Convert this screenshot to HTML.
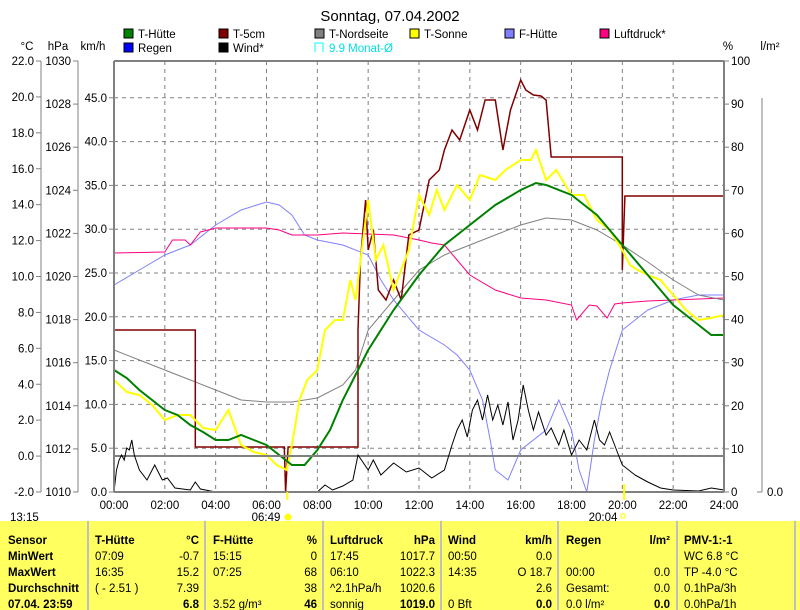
<!DOCTYPE html>
<html><head><meta charset="utf-8"><style>
body{margin:0;background:#fff;width:800px;height:610px;overflow:hidden;font-family:"Liberation Sans",sans-serif}
svg{position:absolute;left:0;top:0}
text{font-family:"Liberation Sans",sans-serif;font-size:11.5px;fill:#000}
</style></head><body>
<svg id="s" width="800" height="610" xmlns="http://www.w3.org/2000/svg">
<text x="390" y="21" text-anchor="middle" style="font-size:15px">Sonntag, 07.04.2002</text>
<g id="g"></g>
</svg>
<script>
var g=document.getElementById('g');var h='';
var X0=114,X1=724,Y0=61,Y1=492;
function x(t){return X0+t*(X1-X0)/24}
function L(a,b,c,d,col,w,da){h+='<line x1="'+a+'" y1="'+b+'" x2="'+c+'" y2="'+d+'" stroke="'+col+'" stroke-width="'+(w||1)+'"'+(da?' stroke-dasharray="'+da+'"':'')+'/>';}
function T(xx,yy,s,anc,ex){h+='<text x="'+xx+'" y="'+yy+'" text-anchor="'+(anc||'start')+'" '+(ex||'')+'>'+s+'</text>';}
for(var i=1;i<12;i++)L(x(2*i),Y0,x(2*i),Y1,'#808080',1,'4,4');
for(var k=1;k<=9;k++){var yy=Y1-k*5*431/49.2;L(X0,yy,X1,yy,'#808080',1,'4,4');}
T(27,50,'°C','middle');T(58,50,'hPa','middle');T(93,50,'km/h','middle');T(728,50,'%','middle');T(770,50,'l/m²','middle');
L(41,61,41,492,'#808080');L(78,61,78,492,'#808080');
for(var v=22;v>=-2;v-=2){var yy=Y0+(22-v)*431/24;L(36,yy,41,yy,'#808080');T(34,yy+4,v.toFixed(1),'end');}
for(var p=1030;p>=1010;p-=2){var yy=Y0+(1030-p)*431/20;L(73,yy,78,yy,'#808080');T(71,yy+4,p,'end');}
for(var k=0;k<=9;k++){var yy=Y1-k*5*431/49.2;L(109,yy,114,yy,'#808080');T(107,yy+4,(k*5).toFixed(1),'end');}
for(var q=0;q<=100;q+=10){var yy=Y1-q*4.31;L(724,yy,729,yy,'#808080');T(731,yy+4,q);}
L(762,98,762,492,'#808080');L(757,492,762,492,'#808080');T(767,496,'0.0');
for(var t=0;t<=24;t+=2)T(x(t),509,(t<10?'0':'')+t+':00','middle');
var lg=[[124,38,'#008000','T-Hütte'],[219,38,'#800000','T-5cm'],[315,38,'#808080','T-Nordseite'],[410,38,'#ffff00','T-Sonne'],[505,38,'#8080ff','F-Hütte'],[600,38,'#ff0080','Luftdruck*'],[124,52,'#0000ff','Regen'],[219,52,'#000000','Wind*']];
lg.forEach(function(a){h+='<rect x="'+a[0]+'" y="'+(a[1]-9)+'" width="9" height="9" fill="'+a[2]+'" stroke="#000"/>';T(a[0]+14,a[1],a[3]);});
h+='<path d="M315 52 V43 H323 V52" fill="none" stroke="#00ffff"/>';T(329,52,'9.9 Monat-Ø','start','style="fill:#00e0e0"');
function P(pts,col,w){var s='';for(var i=0;i<pts.length;i+=2)s+=x(pts[i]).toFixed(1)+','+pts[i+1]+' ';h+='<polyline points="'+s+'" fill="none" stroke="'+col+'" stroke-width="'+(w||1)+'"/>';}
P([0,285,1,270,2,255,2.5,250,3,245,4,225,5,210,6,202,6.5,205,7,215,7.5,235,8,240,9,245,10,255,10.5,280,11,300,12,330,13,345,13.5,355,14,370,14.5,400,14.8,440,15,470,15.5,480,16,450,17,430,17.5,400,18,430,18.3,470,18.6,492,18.9,440,19.2,400,19.5,370,20,330,21,310,22,300,23,295,24,295],'#8080ff');
P([0,253,2,252,2.3,240,2.8,240,3,245,3.4,232,4,228,5,228,6,228,6.5,230,7,235,8,235,9,233,10,234,11,235,12,240,12.5,243,13,245,13.5,260,14,275,15,290,16,298,17,300,18,305,18.2,320,18.7,305,19,306,19.4,318,19.7,304,20,303,21,301,22,300,24,298],'#ff0080');
P([0,350,1,360,2,370,3,380,4,390,5,400,6,402,7,402,8,398,9,385,9.5,370,10,330,11,300,12,270,13,255,14,245,15,235,16,225,17,218,18,220,19,230,20,245,21,262,22,280,23,295,24,300],'#808080');
P([0,330,3.2,330,3.2,447,6.7,447,6.75,492,6.85,447,9.6,447,9.6,330,9.7,260,9.9,200,10,250,10.2,230,10.4,290,10.7,300,11,280,11.3,300,11.6,235,12,230,12.4,180,12.8,170,13,150,13.3,130,13.6,140,14,110,14.3,130,14.6,100,15,100,15.3,150,15.6,110,16,80,16.2,90,16.5,95,16.8,96,17,100,17.2,157,20,157,20,270,20.1,196,24,196],'#800000',1.5);
P([0,380,0.5,392,1,395,1.5,405,2,420,2.5,415,3,415,3.5,428,4,430,4.5,410,5,445,5.5,452,6,455,6.4,465,6.8,470,7,445,7.3,400,7.6,380,8,370,8.3,330,8.7,320,9,320,9.3,280,9.5,300,9.8,240,10,200,10.3,260,10.6,245,11,290,11.3,270,11.6,250,12,195,12.4,215,12.7,190,13,210,13.5,185,14,200,14.4,175,15,180,15.4,170,16,160,16.4,160,16.6,150,17,180,17.4,170,18,195,18.5,195,19,220,19.5,230,20,250,20.3,265,20.6,270,21,275,21.5,280,22,295,22.5,310,23,320,23.5,318,24,315],'#ffff00',2);
P([0,370,0.5,378,1,390,2,410,2.5,415,3,425,3.5,432,4,440,4.5,440,5,435,5.5,440,6,445,6.5,455,7,465,7.5,465,8,450,8.5,430,9,400,9.5,375,10,350,11,310,12,275,13,245,14,225,15,205,16,190,16.6,183,17,185,18,195,19,215,20,245,21,275,22,305,23,325,23.5,335,24,335],'#008000',2);
L(X0,456,X1,456,'#808080',2);
var w=[0,492,0.1,470,0.2,460,0.3,455,0.4,460,0.5,448,0.6,450,0.7,440,0.8,455,1,470,1.3,480,1.6,465,1.9,480,2.1,478,2.4,488,3,490,3.2,482,3.4,489,4,492,8,492,8.3,485,8.6,490,9,486,9.4,480,9.6,455,10,470,10.2,460,10.5,475,11,463,11.5,472,12,468,12.5,478,13,470,13.3,445,13.5,430,13.7,420,13.9,437,14.1,410,14.3,400,14.5,420,14.7,395,14.9,420,15.1,405,15.3,425,15.5,402,15.7,440,15.9,420,16.1,385,16.3,410,16.5,430,16.7,412,17,435,17.2,428,17.5,445,17.7,430,18,455,18.3,440,18.6,450,18.9,420,19.1,440,19.3,445,19.5,432,19.8,452,20,465,20.5,475,21,482,21.5,488,22,490,23,491,23.5,488,24,490];
P(w,'#000000');
L(724,61,724,492,'#808080',2);L(114,61,724,61,'#808080',2);L(114,61,114,492,'#808080',2);L(114,492,724,492,'#808080',2);
L(x(6.82),492,x(6.82),500,'#ffff00',2);L(x(20.07),484,x(20.07),500,'#ffff00',2);
T(10,521,'13:15');T(266,521,'06:49','middle');h+='<circle cx="288" cy="517" r="3.5" fill="#ffff00"/>';T(603,521,'20:04','middle');h+='<rect x="621" y="514" width="4" height="4" fill="none" stroke="#ffff00"/>';
h+='<rect x="0" y="521" width="800" height="89" fill="#ffff60"/>';
[88,205,323,441,558,677,795].forEach(function(s){L(s,521,s,610,'#c0c0c0',2);});
var B='style="font-weight:bold"';var ys=[544,560,576,592,608];
var lab=['Sensor','MinWert','MaxWert','Durchschnitt','07.04. 23:59'];lab.forEach(function(s,i){T(8,ys[i],s,'start',B);});
function C(xl,xr,cells){cells.forEach(function(c,i){if(c[0])T(xl,ys[i],c[0],'start',(i==0?B:''));if(c[1])T(xr,ys[i],c[1],'end',(i==0||i==4)?B:'');});}
C(95,199,[['T-Hütte','°C'],['  07:09','-0.7'],['  16:35','15.2'],['( - 2.51 )','7.39'],['','6.8']]);
C(213,317,[['F-Hütte','%'],['15:15','0'],['07:25','68'],['','38'],['3.52 g/m³','46']]);
C(330,435,[['Luftdruck','hPa'],[' 17:45','1017.7'],[' 06:10','1022.3'],['^2.1hPa/h','1020.6'],['sonnig','1019.0']]);
C(448,552,[['Wind','km/h'],['  00:50','0.0'],['  14:35','O 18.7'],['','2.6'],['  0 Bft','0.0']]);
C(566,670,[['Regen','l/m²'],['',''],['00:00','0.0'],['Gesamt:','0.0'],['0.0 l/m²','0.0']]);
C(684,790,[['PMV-1:-1',''],['WC 6.8 °C',''],['TP -4.0 °C',''],['0.1hPa/3h',''],['0.0hPa/1h','']]);
g.innerHTML=h;
</script>
</body></html>
